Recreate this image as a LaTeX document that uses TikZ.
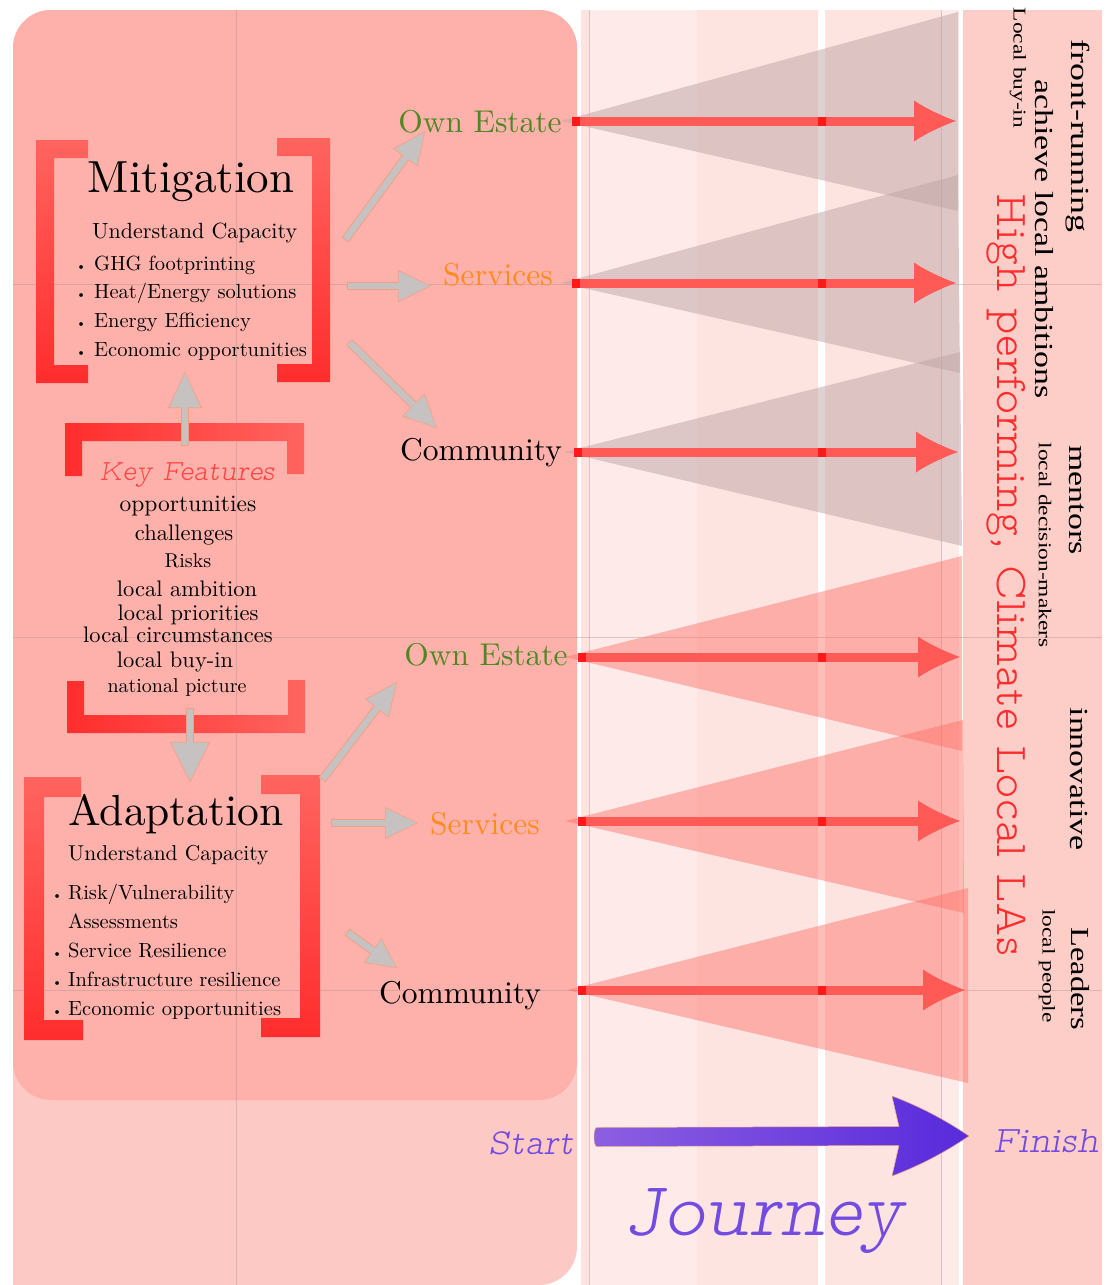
\documentclass[tikz,border=0pt]{standalone}
\usepackage{fontspec}
\usepackage{graphicx}
\usetikzlibrary{arrows.meta,calc}
\setmainfont{lmroman10-regular.otf}[ItalicFont=lmroman10-italic.otf]
\newfontfamily\tnr{Liberation Serif}
\newfontfamily\slab{lmmonoproplt10-regular.otf}
\newfontfamily\slabit{lmmonoproplt10-oblique.otf}
\newcommand\fs[1]{\fontsize{#1}{#1}\selectfont}
\definecolor{outerpink}{RGB}{253,201,196}
\definecolor{innerpink}{RGB}{254,177,170}
\definecolor{midpink}{RGB}{253,228,225}
\definecolor{midlight}{RGB}{254,235,233}
\definecolor{rightpink}{RGB}{253,205,200}
\definecolor{gridc}{RGB}{180,150,150}
\definecolor{trigray}{RGB}{190,165,165}
\definecolor{trired}{RGB}{255,110,100}
\definecolor{arrred}{RGB}{255,90,85}
\definecolor{arrdark}{RGB}{255,25,25}
\definecolor{brkA}{RGB}{255,45,45}
\definecolor{brkB}{RGB}{255,100,95}
\definecolor{fatgray}{RGB}{198,194,193}
\definecolor{fatout}{RGB}{240,160,130}
\definecolor{estate}{RGB}{80,135,35}
\definecolor{service}{RGB}{255,138,30}
\definecolor{keyred}{RGB}{255,70,70}
\definecolor{hpred}{RGB}{255,45,45}
\definecolor{purpA}{RGB}{140,95,225}
\definecolor{purpB}{RGB}{88,42,220}
\definecolor{purptext}{RGB}{115,75,225}
\newcommand\fatarr[6]{%
  \draw[line width=8.4pt, draw=fatout, -{Triangle[length=#3pt,width=#4pt,line width=0pt]}] (#1) -- (#2);
  \draw[line width=6.6pt, draw=fatgray, shorten <=0.8pt, shorten >=1.3pt, -{Triangle[length=#5pt,width=#6pt,line width=0pt]}] (#1) -- (#2);
}
\begin{document}
\begin{tikzpicture}[x=1pt,y=-1pt,
  lab/.style={inner sep=0pt, anchor=base, font=\fs{31.5}},
  body/.style={inner sep=0pt, anchor=base west, font=\fs{20.5}},
  keyl/.style={inner sep=0pt, anchor=base, font=\fs{22.5}},
  vbig/.style={inner sep=0pt, rotate=-90, font=\tnr\fs{26}},
  vsmall/.style={inner sep=0pt, rotate=-90, font=\tnr\fs{18}},
  tri gray/.style={fill=trigray, fill opacity=0.5},
  tri red/.style={fill=trired, fill opacity=0.45},
  redarrow/.style={line width=9pt, draw=arrred, -{Latex[length=42pt,width=41pt,line width=0pt]}},
  gridline/.style={draw=gridc, line width=0.6pt, opacity=0.45},
  darkspot/.style={fill=arrdark},
  vbrk/.style={top color=brkB, bottom color=brkA},
  hbrk/.style={left color=brkA, right color=brkB},
]
\useasboundingbox (0,0) rectangle (1110,1285);
\fill[white] (0,0) rectangle (1110,1285);
% ---------- background panels ----------
\fill[outerpink, rounded corners=38pt] (13,10) rectangle (577,1285);
\fill[outerpink] (13,1240) rectangle (60,1285);
\fill[innerpink, rounded corners=38pt] (13,10) rectangle (577,1100);
\fill[midpink] (581,10) rectangle (959,1285);
\fill[midlight] (589,10) rectangle (697,1285);
\fill[midlight] (942,10) rectangle (959,1285);
\fill[white] (818,10) rectangle (825,1285);
\fill[rightpink] (963,10) rectangle (1102,1285);
\draw[gridline] (589,10) -- (589,1285);
\draw[gridline] (941,10) -- (941,1285);
\draw[gridline] (236,10) -- (236,1285);
\draw[gridline] (13,284) -- (1102,284);
\draw[gridline] (13,637) -- (1102,637);
\draw[gridline] (13,990) -- (1102,990);
% ---------- triangles ----------
\coordinate (t1a) at (561,121); \coordinate (t1b) at (958,12);  \coordinate (t1c) at (958,211);
\coordinate (t2a) at (561,283); \coordinate (t2b) at (958,175); \coordinate (t2c) at (960,373);
\coordinate (t3a) at (564,452); \coordinate (t3b) at (960,352); \coordinate (t3c) at (962,546);
\coordinate (t4a) at (565,657); \coordinate (t4b) at (962,556); \coordinate (t4c) at (962,751);
\coordinate (t5a) at (565,821); \coordinate (t5b) at (963,720); \coordinate (t5c) at (964,913);
\coordinate (t6a) at (567,990); \coordinate (t6b) at (968,888); \coordinate (t6c) at (968,1083);
\fill[tri gray] (t1a) -- (t1b) -- (t1c) -- cycle;
\fill[tri gray] (t2a) -- (t2b) -- (t2c) -- cycle;
\fill[tri gray] (t3a) -- (t3b) -- (t3c) -- cycle;
\fill[tri red] (t4a) -- (t4b) -- (t4c) -- cycle;
\fill[tri red] (t5a) -- (t5b) -- (t5c) -- cycle;
\fill[tri red] (t6a) -- (t6b) -- (t6c) -- cycle;
% ---------- red arrows ----------
\coordinate (r1s) at (572,121); \coordinate (r1e) at (956,121);
\coordinate (r2s) at (572,283); \coordinate (r2e) at (956,283);
\coordinate (r3s) at (574,452); \coordinate (r3e) at (958,452);
\coordinate (r4s) at (578,657); \coordinate (r4e) at (960,657);
\coordinate (r5s) at (578,821); \coordinate (r5e) at (960,821);
\coordinate (r6s) at (578,990); \coordinate (r6e) at (965,990);
\foreach \i in {1,...,6} {\draw[redarrow] (r\i s) -- (r\i e);}
\foreach \y/\xa in {121/572,283/572,452/574,657/578,821/578,990/578} {
  \fill[darkspot] (\xa,\y-4.5) rectangle (\xa+8,\y+4.5);
  \fill[darkspot] (818,\y-4.5) rectangle (826,\y+4.5);
}
% ---------- brackets ----------
\shade[vbrk] (36,140) -- (88,140) -- (88,158) -- (54,158) -- (54,365) -- (88,365) -- (88,383) -- (36,383) -- cycle;
\shade[vbrk] (330,138) -- (277,138) -- (277,156) -- (312,156) -- (312,364) -- (277,364) -- (277,382) -- (330,382) -- cycle;
\shade[hbrk] (65,423) -- (304,423) -- (304,474) -- (287,474) -- (287,441) -- (82,441) -- (82,476) -- (65,476) -- cycle;
\shade[hbrk] (67,681) -- (84,681) -- (84,715) -- (288,715) -- (288,680) -- (305,680) -- (305,733) -- (67,733) -- cycle;
\shade[vbrk] (24,777) -- (81,777) -- (81,797) -- (44,797) -- (44,1020) -- (83,1020) -- (83,1040) -- (24,1040) -- cycle;
\shade[vbrk] (320,775) -- (261,775) -- (261,794) -- (300,794) -- (300,1018) -- (261,1018) -- (261,1037) -- (320,1037) -- cycle;
% ---------- Mitigation ----------
\node[inner sep=0pt, anchor=base, font=\fs{45}] (mit) at (191,192) {Mitigation};
\node[inner sep=0pt, anchor=base west, font=\fs{22}] (mituc) at (92,238) {Understand Capacity};
\node[body] (m1) at (76,270) {\makebox[18pt][l]{\fs{13}\textbullet}GHG footprinting};
\node[body] (m2) at (76,298) {\makebox[18pt][l]{\fs{13}\textbullet}Heat/Energy solutions};
\node[body] (m3) at (76,327) {\makebox[18pt][l]{\fs{13}\textbullet}Energy Efficiency};
\node[body] (m4) at (76,356) {\makebox[18pt][l]{\fs{13}\textbullet}Economic opportunities};
% ---------- Key features ----------
\node[inner sep=0pt, anchor=base, text=keyred] (kf) at (187,480) {\resizebox{175pt}{!}{\slabit Key Features}};
\node[keyl, font=\fs{23.5}] (k1) at (188,511) {opportunities};
\node[keyl] (k2) at (184,540) {challenges};
\node[keyl, font=\fs{20}] (k3) at (188,567) {Risks};
\node[keyl] (k4) at (187,596) {local ambition};
\node[keyl] (k5) at (188,620) {local priorities};
\node[keyl] (k6) at (178,642) {local circumstances};
\node[keyl] (k7) at (175,667) {local buy-in};
\node[keyl, font=\fs{20}] (k8) at (177,692) {national picture};
% ---------- Adaptation ----------
\node[inner sep=0pt, anchor=base, font=\fs{43.5}] (adp) at (176,825) {Adaptation};
\node[inner sep=0pt, anchor=base west, font=\fs{21.5}] (adpuc) at (68,860) {Understand Capacity};
\node[body] (a1) at (52,899) {\makebox[16pt][l]{\fs{13}\textbullet}Risk/Vulnerability};
\node[body] (a2) at (68,928) {Assessments};
\node[body] (a3) at (52,957) {\makebox[16pt][l]{\fs{13}\textbullet}Service Resilience};
\node[body] (a4) at (52,986) {\makebox[16pt][l]{\fs{13}\textbullet}Infrastructure resilience};
\node[body] (a5) at (52,1015) {\makebox[16pt][l]{\fs{13}\textbullet}Economic opportunities};
% ---------- target labels ----------
\node[lab, text=estate] (oe1) at (480,132) {Own Estate};
\node[lab, text=service] (sv1) at (498,285) {Services};
\node[lab] (cm1) at (481,460) {Community};
\node[lab, text=estate] (oe2) at (486,665) {Own Estate};
\node[lab, text=service] (sv2) at (485,834) {Services};
\node[lab] (cm2) at (460,1003) {Community};
% ---------- grey fat arrows ----------
\coordinate (g1s) at (345,240); \coordinate (g1e) at (425,131);
\coordinate (g2s) at (347,286); \coordinate (g2e) at (431,286);
\coordinate (g3s) at (349,342); \coordinate (g3e) at (437,428);
\coordinate (g4s) at (185,446); \coordinate (g4e) at (185,372);
\coordinate (g5s) at (190,708); \coordinate (g5e) at (190,782);
\coordinate (g6s) at (322,780); \coordinate (g6e) at (397,682);
\coordinate (g7s) at (331,823); \coordinate (g7e) at (418,823);
\coordinate (g8s) at (347,932); \coordinate (g8e) at (397,968);
\fatarr{g1s}{g1e}{33}{30}{31}{27.5}
\fatarr{g2s}{g2e}{33}{32}{31}{29.5}
\fatarr{g3s}{g3e}{33}{32}{31}{29.5}
\fatarr{g4s}{g4e}{36}{34}{34}{31.5}
\fatarr{g5s}{g5e}{40}{40}{38}{37.5}
\fatarr{g6s}{g6e}{33}{30}{31}{27.5}
\fatarr{g7s}{g7e}{33}{32}{31}{29.5}
\fatarr{g8s}{g8e}{30}{30}{28}{27.5}
% ---------- right column texts ----------
\node[vbig] (fr) at (1078,136) {\scalebox{1.38}[1]{front-running}};
\node[vbig] (ach) at (1044,239) {\scalebox{1.3}[1]{achieve local ambitions}};
\node[vsmall] (lbi) at (1018,68) {\scalebox{1.3}[1]{Local buy-in}};
\node[vbig] (men) at (1077,500) {\scalebox{1.3}[1]{mentors}};
\node[vsmall] (ldm) at (1045,545) {\scalebox{1.3}[1]{local decision-makers}};
\node[vbig] (inn) at (1079,779) {\scalebox{1.3}[1]{innovative}};
\node[vbig] (lead) at (1080,979) {\scalebox{1.25}[1]{Leaders}};
\node[vsmall] (lpp) at (1047,966) {\scalebox{1.3}[1]{local people}};
\node[inner sep=0pt, rotate=-90, text=hpred] (hp) at (1006,575) {\resizebox{762pt}{!}{\slab High performing, Climate Local LAs}};
% ---------- journey ----------
\node[inner sep=0pt, anchor=base, text=purptext] (st) at (531,1154) {\resizebox{85pt}{!}{\slabit Start}};
\node[inner sep=0pt, anchor=base, text=purptext] (fin) at (1046,1152) {\resizebox{106pt}{!}{\slabit Finish}};
\node[inner sep=0pt, anchor=base, text=purptext] (jr) at (764,1235) {\resizebox{280pt}{!}{\slabit Journey}};
\coordinate (js) at (594,1137);
\coordinate (je) at (969,1136);
\shadedraw[left color=purpA, right color=purpB, draw=fatout, line width=0.5pt]
  ($(js)+(3,-9.5)$) -- ($(je)+(-70,-9.5)$) -- ($(je)+(-77,-40)$)
  .. controls ($(je)+(-40,-26)$) and ($(je)+(-15,-10)$) .. (je)
  .. controls ($(je)+(-15,10)$) and ($(je)+(-40,26)$) .. ($(je)+(-77,40)$)
  -- ($(je)+(-70,9.5)$) -- ($(js)+(3,9.5)$)
  .. controls ($(js)+(-1,9.5)$) and ($(js)+(-1,-9.5)$) .. cycle;
\end{tikzpicture}
\end{document}
